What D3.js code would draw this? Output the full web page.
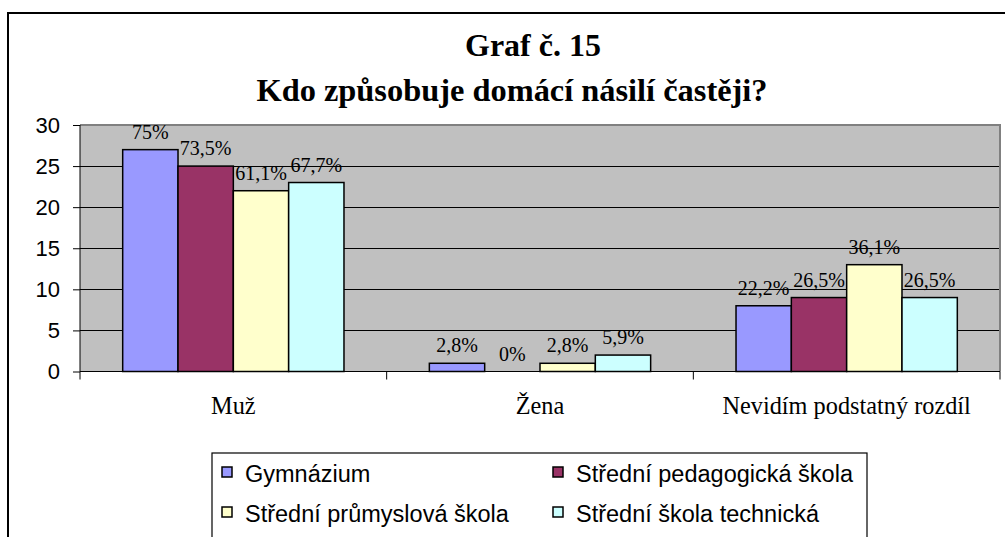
<!DOCTYPE html>
<html><head><meta charset="utf-8">
<script src="https://cdn.jsdelivr.net/npm/d3@7"></script>
<style>
body{margin:0;background:#fff}svg{display:block}
.serif{font-family:"Liberation Serif","Times New Roman",Times,serif}
.sans{font-family:"Liberation Sans",Arial,Helvetica,sans-serif}
</style>
</head><body>
<script>
const categories = ["Muž", "Žena", "Nevidím podstatný rozdíl"];
const seriesNames = ["Gymnázium", "Střední pedagogická škola", "Střední průmyslová škola", "Střední škola technická"];
const gymnazium = [27, 1, 8];
const pedagogicka = [25, 0, 9];
const prumyslova = [22, 1, 13];
const technicka = [23, 2, 9];
const gymLabels = ["75%", "2,8%", "22,2%"];
const pedLabels = ["73,5%", "0%", "26,5%"];
const prumLabels = ["61,1%", "2,8%", "36,1%"];
const techLabels = ["67,7%", "5,9%", "26,5%"];
const colors = ["#9999FF", "#993366", "#FFFFCC", "#CCFFFF"];
const yTicks = [0, 5, 10, 15, 20, 25, 30];
const title1 = "Graf č. 15";
const title2 = "Kdo způsobuje domácí násilí častěji?";

const values = [gymnazium, pedagogicka, prumyslova, technicka];
const labels = [gymLabels, pedLabels, prumLabels, techLabels];

const W = 1005, H = 537;
const svg = d3.select("body").append("svg").attr("width", W).attr("height", H);

// outer chart border
svg.append("rect").attr("x", 8).attr("y", 13).attr("width", 1010).attr("height", 540)
  .attr("fill", "#fff").attr("stroke", "#000").attr("stroke-width", 2);

const L = 80, R = 1000, T = 125, B = 371.5;
const x = d3.scaleBand().domain(categories).range([L, R]).padding(0);
const bw = x.bandwidth();
const g = 0.7216;
const xs = d3.scaleBand().domain(seriesNames).range([bw * (1 - g) / 2, bw * (1 + g) / 2]).padding(0);
const y = d3.scaleLinear().domain([0, 30]).range([B, T]);

// plot background
svg.append("rect").attr("x", L).attr("y", T).attr("width", R - L).attr("height", B - T)
  .attr("fill", "#C0C0C0");
// gridlines
svg.append("g").selectAll("line").data(yTicks.filter(t => t > 0 && t < 30)).join("line")
  .attr("x1", L).attr("x2", R).attr("y1", d => Math.round(y(d)) + 0.5).attr("y2", d => Math.round(y(d)) + 0.5)
  .attr("stroke", "#000").attr("stroke-width", 1);
// plot border (top, right) gray
svg.append("path").attr("d", `M${L},${T}H${R}V${B}`).attr("fill", "none")
  .attr("stroke", "#808080").attr("stroke-width", 2);

// bars
const gBars = svg.append("g");
seriesNames.forEach((s, si) => {
  categories.forEach((c, ci) => {
    const v = values[si][ci];
    if (v > 0) {
      gBars.append("rect")
        .attr("x", x(c) + xs(s)).attr("y", y(v))
        .attr("width", xs.bandwidth()).attr("height", B - y(v))
        .attr("fill", colors[si]).attr("stroke", "#000").attr("stroke-width", 1.5);
    }
    gBars.append("text").attr("class", "serif")
      .attr("x", x(c) + xs(s) + xs.bandwidth() / 2).attr("y", y(v) - 11)
      .attr("text-anchor", "middle").attr("font-size", 20)
      .text(labels[si][ci]);
  });
});

// y axis
const yAxis = svg.append("g").attr("transform", `translate(${L},0)`)
  .call(d3.axisLeft(y).tickValues(yTicks).tickSize(7).tickPadding(13).tickFormat(d3.format("d")));
yAxis.attr("font-family", null).attr("font-size", null);
yAxis.select(".domain").attr("stroke", "#000").attr("d", `M0,${T}V${B}`);
yAxis.selectAll(".tick line").attr("stroke", "#000");
yAxis.selectAll("text").attr("class", "sans").attr("font-size", 22).attr("fill", "#000");

// x axis
const xAxisG = svg.append("g");
xAxisG.append("line").attr("x1", L).attr("x2", R).attr("y1", B).attr("y2", B).attr("stroke", "#000");
const bounds = categories.map(c => x(c)).concat([x(categories[categories.length - 1]) + bw]);
xAxisG.selectAll("line.t").data(bounds).join("line").attr("class", "t")
  .attr("x1", d => d).attr("x2", d => d).attr("y1", B).attr("y2", B + 8).attr("stroke", "#000");
xAxisG.selectAll("text").data(categories).join("text").attr("class", "serif")
  .attr("x", d => x(d) + bw / 2).attr("y", 414).attr("text-anchor", "middle")
  .attr("font-size", 24.3)
  .text(d => d);

// titles
svg.append("text").attr("class", "serif").attr("x", 533).attr("y", 56).attr("text-anchor", "middle")
  .attr("font-weight", "bold").attr("font-size", 32)
  .text(title1);
svg.append("text").attr("class", "serif").attr("x", 512).attr("y", 101).attr("text-anchor", "middle")
  .attr("font-weight", "bold").attr("font-size", 32.4)
  .text(title2);

// legend
const lg = svg.append("g");
lg.append("rect").attr("x", 212).attr("y", 453).attr("width", 655).attr("height", 100)
  .attr("fill", "#fff").attr("stroke", "#000").attr("stroke-width", 1.2);
const legPos = [[222, 467], [553, 467], [222, 507], [553, 507]];
seriesNames.forEach((s, i) => {
  const [lx, ly] = legPos[i];
  lg.append("rect").attr("x", lx).attr("y", ly).attr("width", 10).attr("height", 10)
    .attr("fill", colors[i]).attr("stroke", "#000").attr("stroke-width", 1.5);
  lg.append("text").attr("class", "sans").attr("x", lx + 23).attr("y", ly + 15)
    .attr("font-size", 23.5)
    .text(s);
});
</script>
</body></html>
